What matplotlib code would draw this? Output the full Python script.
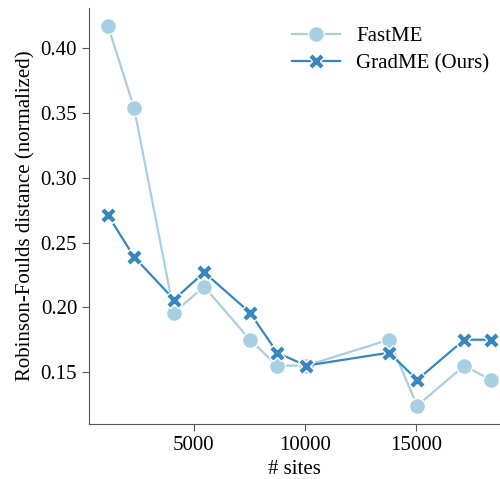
import matplotlib
matplotlib.use("Agg")
import matplotlib.pyplot as plt

plt.rcParams['font.family'] = 'serif'
plt.rcParams['font.serif'] = ['Liberation Serif', 'DejaVu Serif']
plt.rcParams['mathtext.default'] = 'regular'

# number of sites per alignment
sites = [1130, 2300, 4100, 5460, 7520, 8750, 10050, 13790, 15060, 17180, 18370]
# normalized RF distance
fastme = [0.417, 0.354, 0.196, 0.216, 0.175, 0.155, 0.155, 0.175, 0.124, 0.155, 0.144]
gradme = [0.271, 0.239, 0.206, 0.227, 0.196, 0.165, 0.155, 0.165, 0.144, 0.175, 0.175]

light = '#a9cfe5'
dark = '#3686c0'

fig = plt.figure(figsize=(5, 4.79), dpi=100)
ax = fig.add_axes([0.178, 0.115, 0.822, 0.868])

ax.plot(sites, fastme, marker='o', color=light, lw=1.6, ms=11.5,
        mec='white', mew=1.0, label='FastME')
ax.plot(sites, gradme, marker='X', color=dark, lw=1.6, ms=11,
        mec='white', mew=1.0, label='GradME (Ours)')

ax.set_xlim(270, 18790)
ax.set_ylim(0.11, 0.431)
ax.set_xticks([5000, 10000, 15000])
ax.set_yticks([0.15, 0.20, 0.25, 0.30, 0.35, 0.40])
ax.set_yticklabels(['0.15', '0.20', '0.25', '0.30', '0.35', '0.40'])

for s in ['top', 'right']:
    ax.spines[s].set_visible(False)
for s in ['left', 'bottom']:
    ax.spines[s].set_color('#555555')
ax.tick_params(direction='out', length=5, color='#555555', labelsize=15)

ax.set_xlabel('# sites', fontsize=15)
ax.set_ylabel('Robinson-Foulds distance (normalized)', fontsize=15)

ax.legend(loc='upper right', frameon=False, fontsize=15, handlelength=2.3,
          bbox_to_anchor=(1.02, 1.0), labelspacing=0.35)

fig.savefig('out.png', dpi=100)
